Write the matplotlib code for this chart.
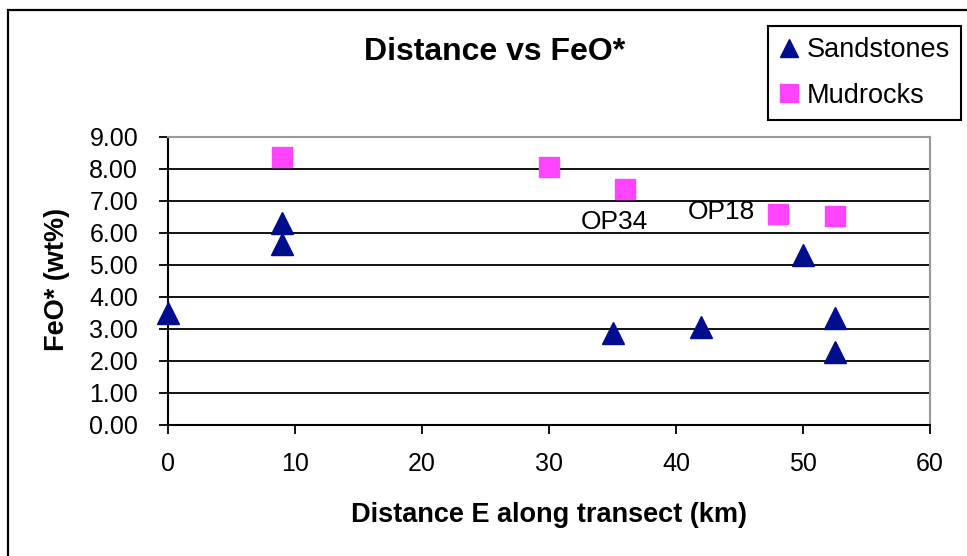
import matplotlib.pyplot as plt
from matplotlib.patches import Rectangle
from matplotlib.ticker import FormatStrFormatter

plt.rcParams['font.family'] = ['Liberation Sans', 'DejaVu Sans']

# Sandstones
sand_dist = [0, 9, 9, 35, 42, 50, 52.5, 52.5]
sand_feo = [3.50, 6.30, 5.65, 2.87, 3.06, 5.30, 3.33, 2.27]

# Mudrocks
mud_dist = [9, 30, 36, 48, 52.5]
mud_feo = [8.37, 8.05, 7.39, 6.60, 6.52]

# Sample labels (baseline positions)
labels = ['OP34', 'OP18']
label_x = [35.16, 43.54]
label_y = [6.13, 6.44]

W, H = 967, 556
fig = plt.figure(figsize=(W / 100, H / 100), dpi=100)
ax = fig.add_axes([168 / W, 1 - 425 / H, (930 - 168) / W, (425 - 137) / H])

# chart frame, running off the right and bottom edges
fig.patches.append(Rectangle((8 / W, -0.1), 1.2, 0.1 + (H - 10) / H,
                             transform=fig.transFigure, fill=False,
                             edgecolor='black', linewidth=1.6))

for yv in range(1, 9):
    ax.axhline(yv, color='black', linewidth=1.3, zorder=1)

ax.plot(sand_dist, sand_feo, linestyle='none', marker='^', markersize=16.5,
        color='#000d8c', label='Sandstones', zorder=3, clip_on=False)
ax.plot(mud_dist, mud_feo, linestyle='none', marker='s', markersize=15,
        color='#ff44ff', label='Mudrocks', zorder=3, clip_on=False)

for t, x, y in zip(labels, label_x, label_y):
    ax.text(x, y, t, ha='center', va='baseline', fontsize=19)

ax.set_xlim(0, 60)
ax.set_ylim(0, 9)
ax.set_xticks(range(0, 61, 10))
ax.set_yticks(range(0, 10))
ax.yaxis.set_major_formatter(FormatStrFormatter('%.2f'))
ax.tick_params(direction='out', length=6.5, width=1.3, labelsize=18, colors='black')
ax.tick_params(axis='y', pad=15)
ax.tick_params(axis='x', pad=13)

ax.spines['left'].set_linewidth(1.5)
ax.spines['bottom'].set_linewidth(1.5)
ax.spines['top'].set_color('#999999')
ax.spines['right'].set_color('#999999')
ax.spines['top'].set_linewidth(1.5)
ax.spines['right'].set_linewidth(1.5)

fig.text(549 / W, 1 - 522 / H, 'Distance E along transect (km)', ha='center',
         va='baseline', fontsize=19.5, fontweight='bold')
fig.text(57 / W, 1 - 279 / H, 'FeO* (wt%)', ha='center', va='center',
         rotation=90, fontsize=19.5, fontweight='bold')
fig.text(495 / W, 1 - 60 / H, 'Distance vs FeO*', ha='center', va='baseline',
         fontsize=23, fontweight='bold')

leg = fig.legend(loc='upper right', bbox_to_anchor=(961 / W, 1 - 26 / H),
                 borderaxespad=0, fontsize=19.5, frameon=True, fancybox=False,
                 edgecolor='black', framealpha=1, handlelength=0.7,
                 handletextpad=0.3, markerscale=0.82, borderpad=0.42,
                 labelspacing=0.72)
leg.get_frame().set_linewidth(1.5)

fig.savefig('out.png', dpi=100)
